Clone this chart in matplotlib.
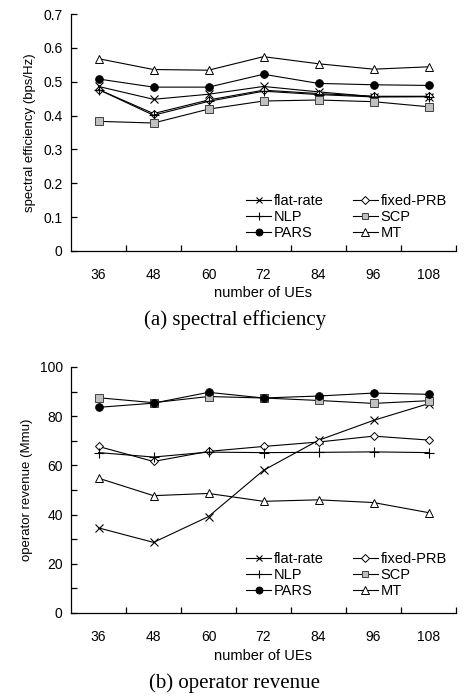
import matplotlib
matplotlib.use("Agg")
import matplotlib.pyplot as plt
from matplotlib.ticker import MultipleLocator, FixedLocator

plt.rcParams['font.family'] = ['Liberation Sans', 'DejaVu Sans']

ues = ["36", "48", "60", "72", "84", "96", "108"]
series = ["flat-rate", "fixed-PRB", "NLP", "SCP", "PARS", "MT"]

se_flat = [0.486, 0.448, 0.463, 0.486, 0.470, 0.456, 0.456]
se_fixed = [0.477, 0.406, 0.446, 0.475, 0.465, 0.457, 0.457]
se_nlp = [0.477, 0.401, 0.442, 0.472, 0.462, 0.455, 0.456]
se_scp = [0.383, 0.378, 0.419, 0.443, 0.446, 0.441, 0.426]
se_pars = [0.508, 0.484, 0.484, 0.522, 0.495, 0.491, 0.489]
se_mt = [0.568, 0.536, 0.534, 0.574, 0.553, 0.537, 0.544]

rv_flat = [34.6, 28.7, 39.2, 58.0, 70.2, 78.3, 85.1]
rv_fixed = [67.7, 61.6, 65.7, 67.7, 69.5, 71.9, 70.3]
rv_nlp = [65.2, 63.4, 65.4, 65.2, 65.3, 65.5, 65.2]
rv_scp = [87.5, 85.5, 88.0, 87.4, 86.4, 85.2, 86.3]
rv_pars = [83.6, 85.3, 89.7, 87.4, 88.2, 89.4, 88.9]
rv_mt = [54.8, 47.7, 48.6, 45.4, 46.0, 44.9, 40.8]

styles = {
    "flat-rate": dict(marker="x", mfc="black", mec="black", ms=5.5, mew=0.8),
    "fixed-PRB": dict(marker="D", mfc="white", mec="black", ms=4.0, mew=0.7),
    "NLP": dict(marker="+", mfc="black", mec="black", ms=6.5, mew=0.8),
    "SCP": dict(marker="s", mfc="#c0c0c0", mec="#404040", ms=5.5, mew=0.7),
    "PARS": dict(marker="o", mfc="black", mec="black", ms=5.5, mew=0.7),
    "MT": dict(marker="^", mfc="white", mec="black", ms=6.0, mew=0.7),
}

fig = plt.figure(figsize=(4.65, 7.0), dpi=100)
L, R = 71 / 465, 456 / 465
ax1 = fig.add_axes([L, 1 - 251 / 700, R - L, (251 - 14) / 700])
ax2 = fig.add_axes([L, 1 - 613 / 700, R - L, (613 - 367) / 700])

def draw(ax, data, ylim, major, minor, ylabel, xlab_y, cap, cap_y, leg_anchor):
    x = list(range(len(ues)))
    handles = {}
    for name, vals in zip(series, data):
        h, = ax.plot(x, vals, color="black", lw=0.8, label=name, **styles[name])
        handles[name] = h
    ax.set_xlim(-0.5, len(ues) - 0.5)
    ax.set_ylim(*ylim)
    ax.spines["top"].set_visible(False)
    ax.spines["right"].set_visible(False)
    ax.spines["left"].set_linewidth(0.9)
    ax.spines["bottom"].set_linewidth(0.9)
    ax.set_xticks(x)
    ax.set_xticklabels(ues)
    ax.xaxis.set_minor_locator(FixedLocator([i + 0.5 for i in range(len(ues))]))
    ax.tick_params(axis="x", which="major", length=0, pad=12, labelsize=10)
    ax.tick_params(axis="x", which="minor", direction="in", length=4, width=0.9)
    ax.yaxis.set_major_locator(MultipleLocator(major))
    ax.yaxis.set_minor_locator(MultipleLocator(minor))
    ax.tick_params(axis="y", which="both", direction="in", length=4, width=0.9, labelsize=10, pad=6)
    ax.set_ylabel(ylabel, fontsize=9.5, labelpad=5)
    fig.text((L + R) / 2, 1 - xlab_y / 700, "number of UEs", fontsize=10.5, ha="center", va="center")
    fig.text(0.505, 1 - cap_y / 700, cap, fontsize=15, ha="center", va="center",
             family=["Liberation Serif", "DejaVu Serif"])
    order = ["flat-rate", "NLP", "PARS", "fixed-PRB", "SCP", "MT"]
    ax.legend([handles[n] for n in order], order, ncol=2, loc="lower left",
              bbox_to_anchor=leg_anchor, frameon=False, fontsize=10.5,
              handlelength=1.7, handletextpad=0.2, columnspacing=2.0,
              labelspacing=0.15, borderpad=0, borderaxespad=0, markerscale=0.9)

draw(ax1, [se_flat, se_fixed, se_nlp, se_scp, se_pars, se_mt], (0, 0.7), 0.1, 0.1,
     "spectral efficiency (bps/Hz)", 293, "(a) spectral efficiency", 320, (0.455, 0.045))
ax1.yaxis.set_major_formatter(matplotlib.ticker.FuncFormatter(lambda v, p: "0" if abs(v) < 1e-9 else f"{v:.1f}"))
draw(ax2, [rv_flat, rv_fixed, rv_nlp, rv_scp, rv_pars, rv_mt], (0, 100), 20, 10,
     "operator revenue (Mmu)", 656, "(b) operator revenue", 683, (0.455, 0.06))

fig.savefig("out.png", dpi=100)
